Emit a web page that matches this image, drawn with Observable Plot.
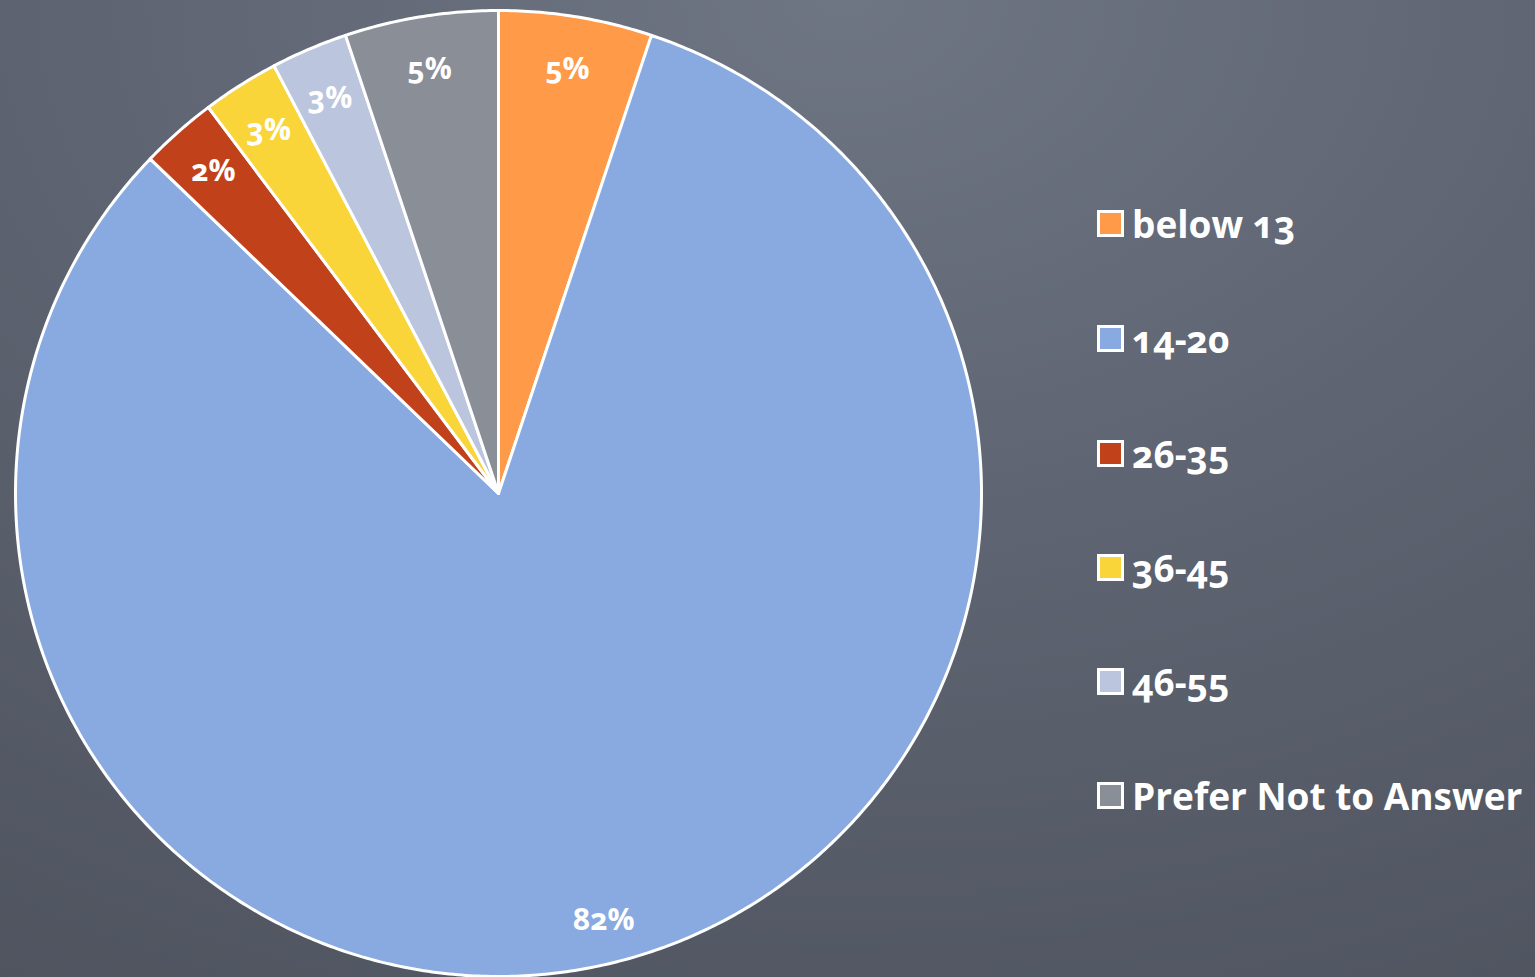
<!DOCTYPE html>
<html>
<head>
<meta charset="utf-8">
<script src="https://cdn.jsdelivr.net/npm/d3@7"></script>
<script src="https://cdn.jsdelivr.net/npm/@observablehq/plot@0.6"></script>
<style>
  html, body { margin: 0; padding: 0; }
  #wrap {
    position: relative; width: 1535px; height: 977px; overflow: hidden;
    background: radial-gradient(ellipse 110% 120% at 55% 0%, #6f7683 0%, #5e6471 45%, #4e535e 100%);
    font-family: "Open Sans", Lato, sans-serif;
  }
  #chart { position: absolute; left: 0; top: 0; }
  .leg { position: absolute; left: 1097px; display: flex; align-items: center; height: 40px; color: #fff;
         font-weight: 700; font-size: 37px; font-variant-numeric: oldstyle-nums; white-space: nowrap; }
  .sw { width: 21px; height: 21px; border: 3px solid #fff; margin-right: 8px; }
</style>
</head>
<body>
<div id="wrap"><div id="chart"></div><div id="legend"></div></div>
<script>
const categories = ["below 13", "14-20", "26-35", "36-45", "46-55", "Prefer Not to Answer"];
const counts = [2, 32, 1, 1, 1, 2];
const labels = ["5%", "82%", "2%", "3%", "3%", "5%"];
const colors = ["#FF9A48", "#88AAE0", "#C1411B", "#F9D53A", "#BBC6DE", "#8A8E97"];

const data = categories.map((c, i) => ({category: c, count: counts[i], label: labels[i], color: colors[i]}));
const arcs = d3.pie().value(d => d.count).sort(null)(data);

// polygon outline per slice, in data units (unit circle), y up
function slicePoints(a) {
  const pts = [{x: 0, y: 0, k: a.data.category}];
  const n = Math.max(4, Math.ceil((a.endAngle - a.startAngle) / (Math.PI / 360)));
  for (let j = 0; j <= n; j++) {
    const t = a.startAngle + (a.endAngle - a.startAngle) * j / n;
    pts.push({x: Math.sin(t), y: Math.cos(t), k: a.data.category});
  }
  return pts;
}

const labelPts = arcs.map(a => {
  const m = (a.startAngle + a.endAngle) / 2;
  const r = a.data.count > 10 ? 0.91 : 0.89;
  return {x: r * Math.sin(m), y: r * Math.cos(m), text: a.data.label};
});

const marks = arcs.map(a => Plot.line(slicePoints(a), {
  x: "x", y: "y", curve: "linear-closed",
  fill: a.data.color, stroke: "#fff", strokeWidth: 3, strokeLinejoin: "round"
}));
marks.push(Plot.text(labelPts, {
  x: "x", y: "y", text: "text", fill: "#fff", fontSize: 30, fontWeight: "bold",
  fontFamily: "'Open Sans', Lato, sans-serif"
}));

const plot = Plot.plot({
  width: 1535, height: 977,
  marginLeft: 15, marginRight: 554, marginTop: 10, marginBottom: 1,
  x: {domain: [-1, 1], axis: null},
  y: {domain: [-1, 1], axis: null},
  style: {background: "transparent", overflow: "visible", fontVariantNumeric: "oldstyle-nums"},
  marks
});
document.getElementById("chart").appendChild(plot);

const legendTops = [223, 338, 453, 567, 681, 795];
const leg = document.getElementById("legend");
data.forEach((d, i) => {
  const row = document.createElement("div");
  row.className = "leg";
  row.style.top = (legendTops[i] - 20) + "px";
  const sw = document.createElement("div");
  sw.className = "sw";
  sw.style.background = d.color;
  const tx = document.createElement("span");
  tx.textContent = d.category;
  row.appendChild(sw); row.appendChild(tx);
  leg.appendChild(row);
});
</script>
</body>
</html>
